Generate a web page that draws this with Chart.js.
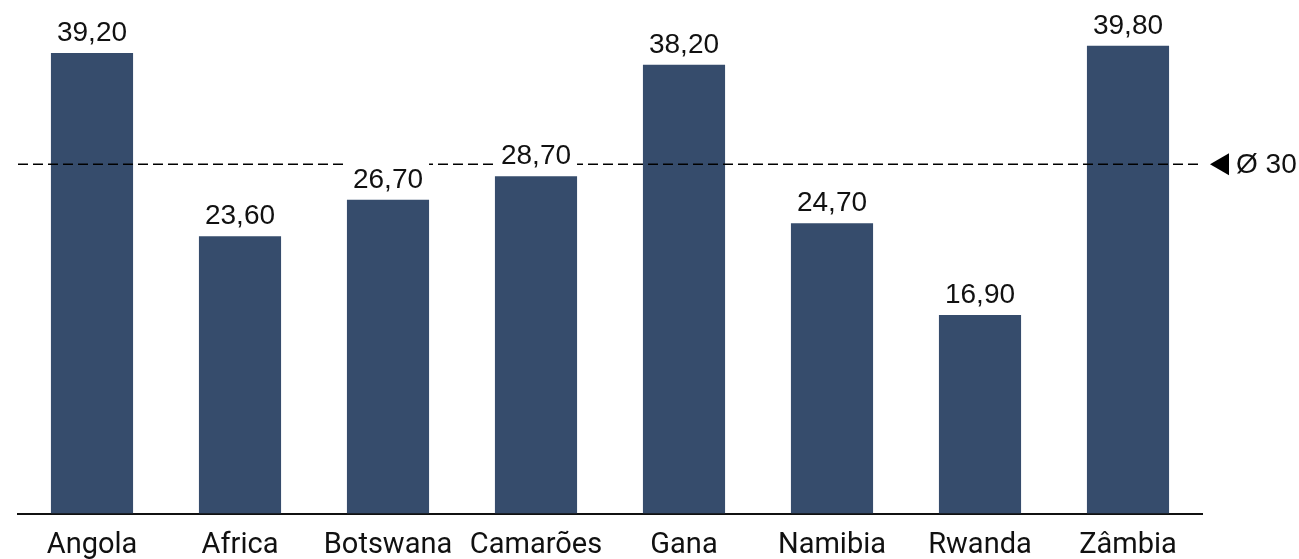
<!DOCTYPE html>
<html>
<head>
<meta charset="utf-8">
<script src="https://cdn.jsdelivr.net/npm/chart.js@4.4.1/dist/chart.umd.min.js"></script>
<style>
  html, body { margin: 0; padding: 0; background: #fff; }
  #wrap { width: 1299px; height: 559px; }
</style>
</head>
<body>
<div id="wrap"><canvas id="barChart" width="1299" height="559"></canvas></div>
<script>
// --- data ---
const countries = ['Angola', 'Africa', 'Botswana', 'Camarões', 'Gana', 'Namibia', 'Rwanda', 'Zâmbia'];
const values = [39.2, 23.6, 26.7, 28.7, 38.2, 24.7, 16.9, 39.8];
const yMin = 0;
const yMax = 43.7;

const barColor = '#364c6c';
const valueFont = '28px "Liberation Sans", Arial, sans-serif';

const formatValue = v => v.toFixed(2).replace('.', ',');
const average = values.reduce((sum, v) => sum + v, 0) / values.length;

// dashed average line + value labels (white box so they cut the line)
const overlayPlugin = {
    id: 'overlay',
    afterDatasetsDraw(chart) {
        const ctx = chart.ctx;
        const area = chart.chartArea;
        const yScale = chart.scales.y;
        const avgY = yScale.getPixelForValue(average);

        ctx.save();
        ctx.strokeStyle = '#000';
        ctx.lineWidth = 1.5;
        ctx.setLineDash([10, 5]);
        ctx.beginPath();
        ctx.moveTo(area.left, avgY);
        ctx.lineTo(area.right - 4, avgY);
        ctx.stroke();
        ctx.setLineDash([]);

        // value labels
        ctx.font = valueFont;
        ctx.textAlign = 'center';
        ctx.textBaseline = 'alphabetic';
        const meta = chart.getDatasetMeta(0);
        meta.data.forEach((bar, i) => {
            const text = formatValue(values[i]);
            const w = ctx.measureText(text).width;
            const base = bar.y - 12;
            ctx.fillStyle = '#fff';
            ctx.fillRect(bar.x - w / 2 - 6, base - 28, w + 12, 31);
            ctx.fillStyle = '#111';
            ctx.fillText(text, bar.x, base);
        });

        // average marker on the right
        const tx = area.right + 8;
        ctx.fillStyle = '#000';
        ctx.beginPath();
        ctx.moveTo(tx, avgY);
        ctx.lineTo(tx + 19, avgY - 11);
        ctx.lineTo(tx + 19, avgY + 11);
        ctx.closePath();
        ctx.fill();
        ctx.textAlign = 'left';
        ctx.textBaseline = 'middle';
        ctx.fillStyle = '#111';
        ctx.fillText('Ø ' + Math.round(average), tx + 26, avgY + 1);
        ctx.restore();
    }
};

new Chart(document.getElementById('barChart'), {
    type: 'bar',
    data: {
        labels: countries,
        datasets: [{
            data: values,
            backgroundColor: barColor,
            borderWidth: 0,
            categoryPercentage: 1,
            barPercentage: 0.555
        }]
    },
    options: {
        responsive: false,
        animation: false,
        layout: { padding: { left: 18, right: 97, top: 0, bottom: 0 } },
        plugins: {
            legend: { display: false },
            tooltip: { enabled: false }
        },
        scales: {
            x: {
                offset: true,
                grid: { display: false, drawTicks: false },
                border: { display: true, color: '#111', width: 2 },
                ticks: {
                    color: '#111',
                    padding: 15,
                    font: { family: 'Roboto, "Liberation Sans", sans-serif', size: 29 }
                },
                afterFit(scale) { scale.height = 45.5; }
            },
            y: {
                display: false,
                min: yMin,
                max: yMax
            }
        }
    },
    plugins: [overlayPlugin]
});
</script>
</body>
</html>
